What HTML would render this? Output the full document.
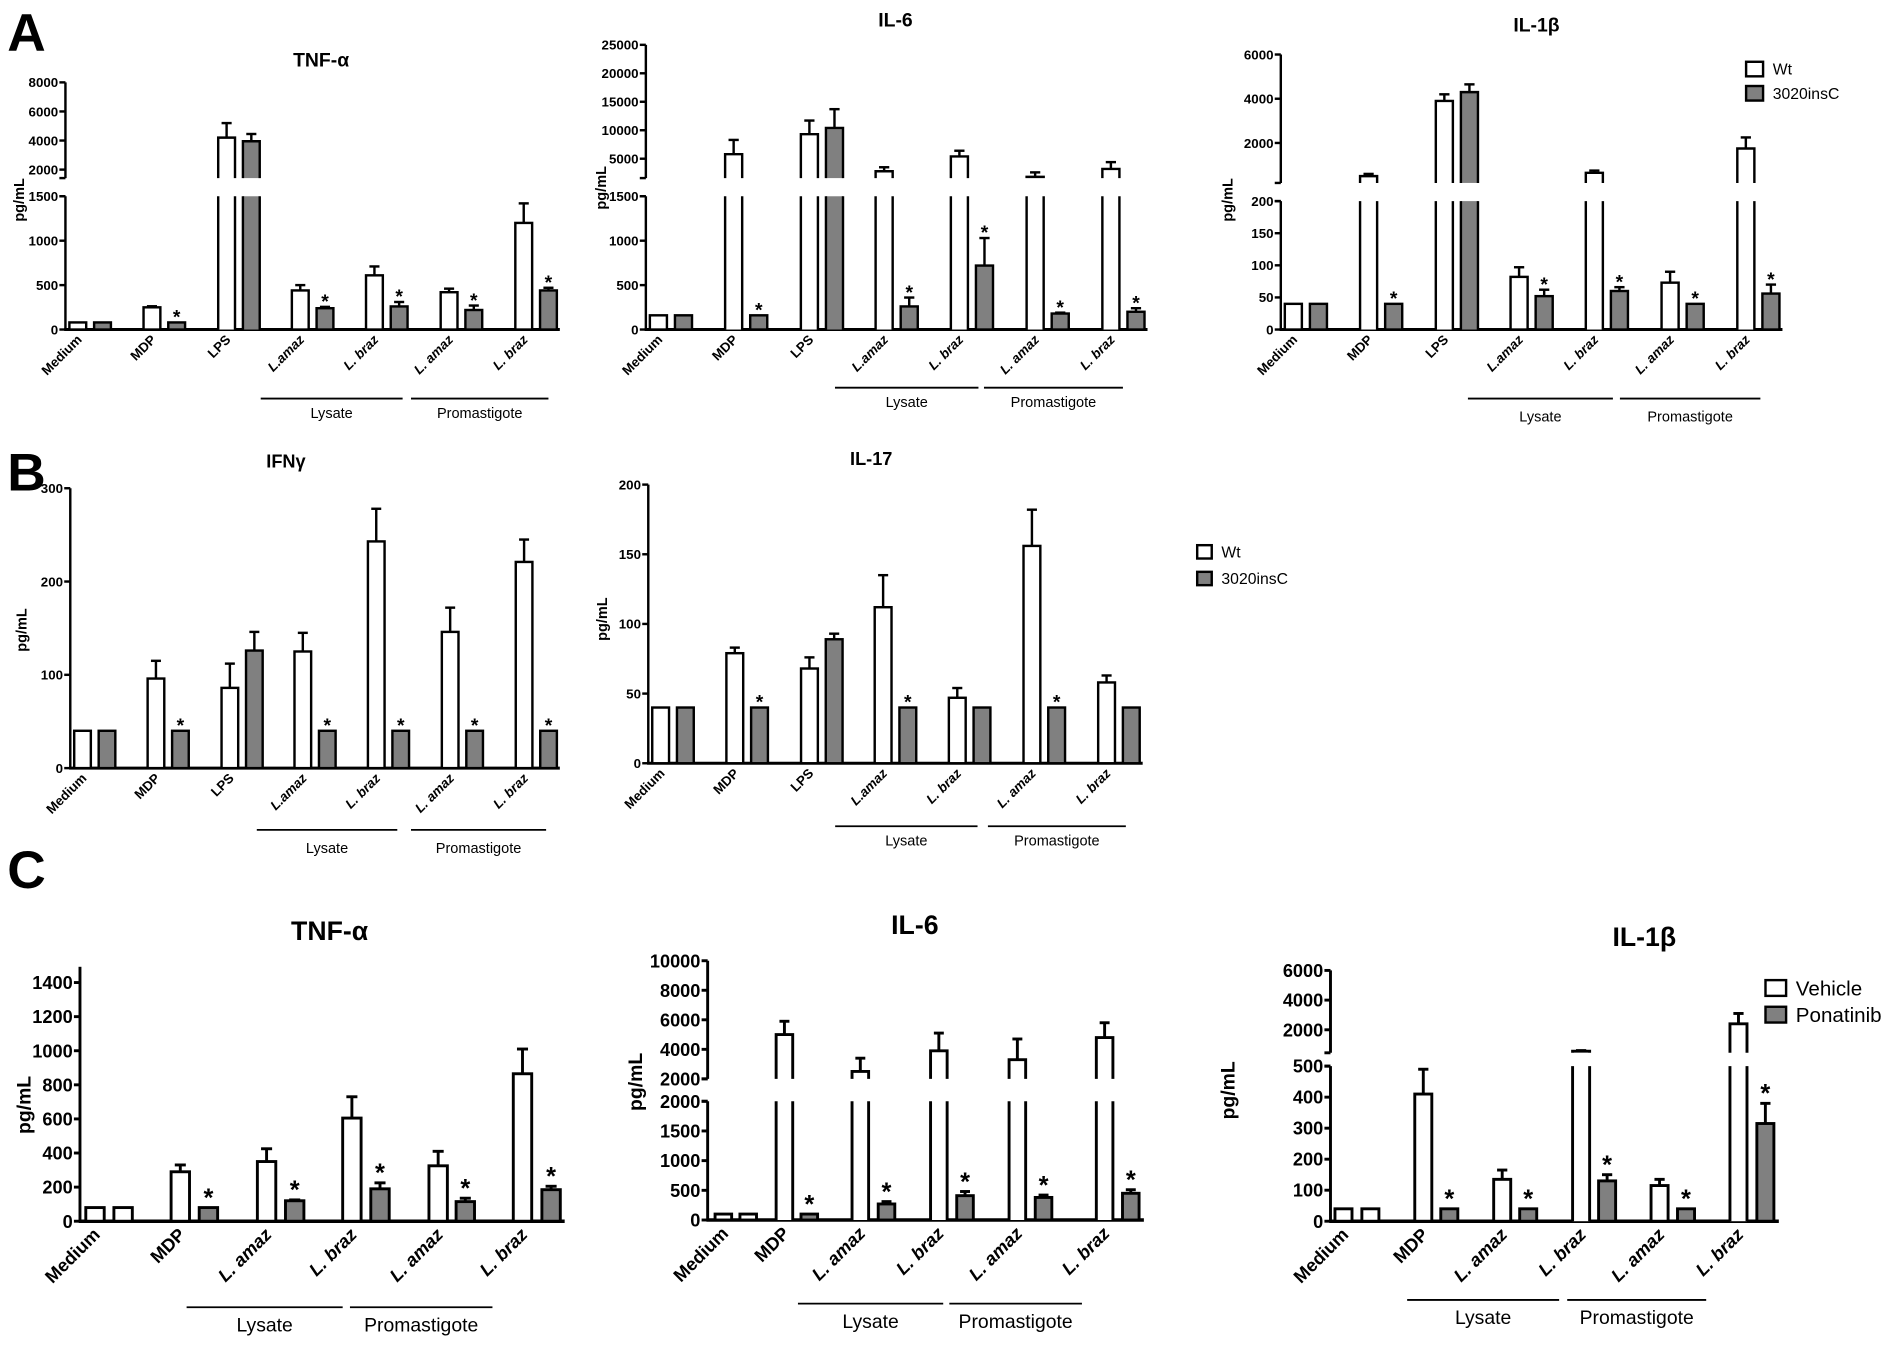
<!DOCTYPE html>
<html><head><meta charset="utf-8">
<style>
html,body{margin:0;padding:0;background:#fff;}
svg{display:block;}
text{font-family:"Liberation Sans Narrow","Liberation Sans",Arial,sans-serif;font-weight:bold;fill:#000;}
.nb{font-weight:normal;}
</style></head>
<body>
<svg id="s" xmlns="http://www.w3.org/2000/svg" width="1900" height="1346" viewBox="0 0 1568 1111" preserveAspectRatio="none"></svg>
<script>
const NS="http://www.w3.org/2000/svg";
const S=document.getElementById('s');
function el(t,a,txt){const e=document.createElementNS(NS,t);for(const k in a)e.setAttribute(k,a[k]);if(txt!==undefined)e.textContent=txt;S.appendChild(e);return e;}
function line(x1,y1,x2,y2,w){el('line',{x1,y1,x2,y2,stroke:'#000','stroke-width':w||2});}
function text(x,y,t,o){o=o||{};const a={x,y,'font-size':o.fs||12,'text-anchor':o.anchor||'middle'};if(o.rot)a.transform=o.rot;if(o.italic)a['font-style']='italic';if(o.cls)a['class']=o.cls;el('text',a,t);}
const stdW=[.025,.175,.326,.475,.625,.776,.927], stdG=stdW.map(v=>v+.05);
const labA=[["Medium",0],["MDP",0],["LPS",0],["L.amaz",1],["L. braz",1],["L. amaz",1],["L. braz",1]];
const labC=[["Medium",0],["MDP",0],["L. amaz",1],["L. braz",1],["L. amaz",1],["L. braz",1]];
function chart(c){
 const x0=c.x0,L=c.L,y0=c.y0,lo=c.lo,up=c.up;
 const X=f=>x0+f*L;
 const yl=v=>y0-v/lo.max*(y0-lo.ytop);
 const yu=v=>up.a[1]+(v-up.a[0])*(up.b[1]-up.a[1])/(up.b[0]-up.a[0]);
 const Y=v=>(!up||v<=lo.max)?yl(v):Math.min(yu(v),up.yb-1);
 const sw=c.sw||2;
 line(x0,y0,x0,lo.ytop,sw);
 lo.ticks.forEach(t=>{const y=yl(t);line(x0-5,y,x0,y,sw);text(x0-6,y+c.tfs*0.36,String(t),{fs:c.tfs,anchor:'end'});});
 if(up){line(x0,up.yb,x0,up.top,sw);line(x0-5,up.yb,x0,up.yb,sw);line(x0-5,lo.ytop,x0,lo.ytop,sw);
  up.ticks.forEach(t=>{const y=yu(t);line(x0-5,y,x0,y,sw);text(x0-6,y+c.tfs*0.36,String(t),{fs:c.tfs,anchor:'end'});});}
 else{ if(c.top)line(x0,lo.ytop,x0,c.top,sw);}
 line(x0-1,y0,x0+L,y0,sw+0.5);
 const bw=c.bw*L;
 c.data.forEach((d,i)=>{
  const pairs=[[c.fw[i],d[0],d[1],'#fff'],[c.fg[i],d[2],d[3],(c.medWhite&&i==0)?'#fff':'#808080']];
  pairs.forEach(([f,v,e,fill],k)=>{
   const cx=X(f),l=cx-bw/2,r=cx+bw/2;
   if(!up||v<=lo.max){const yt=yl(v);
    el('rect',{x:l,y:yt,width:bw,height:y0-yt,fill,stroke:'#000','stroke-width':sw});
   }else{
    el('rect',{x:l,y:lo.ytop,width:bw,height:y0-lo.ytop,fill,stroke:'none'});
    el('path',{d:`M${l},${y0}V${lo.ytop}M${r},${y0}V${lo.ytop}`,stroke:'#000','stroke-width':sw,fill:'none'});
    const yt=Y(v);
    el('rect',{x:l,y:yt,width:bw,height:up.yb-yt,fill,stroke:'none'});
    el('path',{d:`M${l},${up.yb}V${yt}H${r}V${up.yb}`,stroke:'#000','stroke-width':sw,fill:'none'});
   }
   let top=Y(v);
   if(e&&e>v){const ye=Y(e);line(cx,top,cx,ye,sw);line(cx-bw*0.3,ye,cx+bw*0.3,ye,sw);top=ye;}
   if(k==1&&d[4])text(cx,top+(c.sfs>18?-1:1),'*',{fs:c.sfs});
  });
  const lb=c.labs[i];const lx=X(c.fw[i])+c.lo2,ly=y0+c.ly;
  text(lx,ly,lb[0],{fs:c.lfs,anchor:'end',italic:lb[1],rot:`rotate(-45 ${lx} ${ly})`});
 });
 c.groups.forEach(g=>{line(X(g[0]),c.gy,X(g[1]),c.gy,1.5);text((X(g[0])+X(g[1]))/2,c.gty,g[2],{fs:c.gfs,cls:'nb'});});
 text(c.title[0],c.title[1],c.title[2],{fs:c.title[3]});
 text(c.yl[0],c.yl[1],'pg/mL',{fs:c.yl[2],rot:`rotate(-90 ${c.yl[0]} ${c.yl[1]})`});
}
function legend(x,y1,y2,w,h,fs,t1,t2){
 el('rect',{x,y:y1,width:w,height:h,fill:'#fff',stroke:'#000','stroke-width':2});
 el('rect',{x,y:y2,width:w,height:h,fill:'#808080',stroke:'#000','stroke-width':2});
 text(x+w+8,y1+h/2+fs*0.36,t1,{fs,anchor:'start',cls:'nb'});
 text(x+w+8,y2+h/2+fs*0.36,t2,{fs,anchor:'start',cls:'nb'});
}
const A={fw:stdW,fg:stdG,bw:.034,tfs:11,sfs:16,lfs:11,labs:labA,lo2:4,ly:9,gfs:12};
chart(Object.assign({},A,{x0:54,L:408,y0:272,lo:{max:1500,ytop:162,ticks:[0,500,1000,1500]},
 up:{yb:147,a:[2000,140],b:[8000,68],ticks:[2000,4000,6000,8000],top:68},
 data:[[80,0,80,0,0],[250,262,80,0,1],[4200,5200,3950,4450,0],[440,500,240,255,1],[610,710,260,310,1],[420,460,220,270,1],[1200,1420,440,470,1]],
 groups:[[.395,.682,'Lysate'],[.699,.977,'Promastigote']],gy:329,gty:345,title:[265,55,'TNF-α',16],yl:[20,165,12]}));
chart(Object.assign({},A,{x0:533,L:414,y0:272,lo:{max:1500,ytop:162,ticks:[0,500,1000,1500]},
 up:{yb:147,a:[5000,131],b:[25000,37],ticks:[5000,10000,15000,20000,25000],top:37},
 data:[[160,0,160,0,0],[5800,8300,160,0,1],[9300,11700,10400,13700,0],[2800,3500,260,360,1],[5400,6400,720,1030,1],[1800,2600,180,190,1],[3200,4400,200,240,1]],
 groups:[[.377,.663,'Lysate'],[.674,.951,'Promastigote']],gy:320,gty:336,title:[739,22,'IL-6',16],yl:[500,155,12]}));
chart(Object.assign({},A,{x0:1057,L:414,y0:272,lo:{max:200,ytop:166,ticks:[0,50,100,150,200]},
 up:{yb:151,a:[2000,118],b:[6000,45],ticks:[2000,4000,6000],top:45},
 data:[[40,0,40,0,0],[500,600,40,0,1],[3900,4200,4300,4650,0],[82,97,52,62,1],[650,750,60,66,1],[73,90,40,0,1],[1750,2250,56,70,1]],
 groups:[[.373,.662,'Lysate'],[.676,.956,'Promastigote']],gy:329,gty:348,title:[1268,26,'IL-1β',16],yl:[1017,165,12]}));
legend(1441,51,71,14,12,13,'Wt','3020insC');
chart(Object.assign({},A,{x0:58,L:404,y0:634,lo:{max:300,ytop:403,ticks:[0,100,200,300]},
 data:[[40,0,40,0,0],[96,115,40,0,1],[86,112,126,146,0],[125,145,40,0,1],[243,278,40,0,1],[146,172,40,0,1],[221,245,40,0,1]],
 groups:[[.381,.668,'Lysate'],[.696,.972,'Promastigote']],gy:685,gty:704,title:[236,386,'IFNγ',15],yl:[22,520,12]}));
chart(Object.assign({},A,{x0:535,L:408,y0:630,lo:{max:200,ytop:400,ticks:[0,50,100,150,200]},
 data:[[40,0,40,0,0],[79,83,40,0,1],[68,76,89,93,0],[112,135,40,0,1],[47,54,40,0,0],[156,182,40,0,1],[58,63,40,0,0]],
 groups:[[.378,.666,'Lysate'],[.687,.966,'Promastigote']],gy:682,gty:698,title:[719,384,'IL-17',15],yl:[501,511,12]}));
legend(988,450,472,12,11,13,'Wt','3020insC');
const C={bw:.038,tfs:15,sfs:21,lfs:15,labs:labC,lo2:5,ly:12,gfs:16,medWhite:true,sw:2.4};
chart(Object.assign({},C,{x0:66,L:400,y0:1008,lo:{max:1400,ytop:811,ticks:[0,200,400,600,800,1000,1200,1400]},top:798,
 fw:[.031,.207,.385,.561,.739,.913],fg:[.089,.265,.443,.619,.795,.972],
 data:[[80,0,80,0,0],[290,330,80,0,1],[350,425,120,125,1],[605,730,190,225,1],[325,410,115,135,1],[865,1010,185,205,1]],
 groups:[[.22,.542,'Lysate'],[.557,.851,'Promastigote']],gy:1079,gty:1099,title:[272,776,'TNF-α',22],yl:[25,912,16]}));
chart(Object.assign({},C,{x0:584,L:360,y0:1007,lo:{max:2000,ytop:909,ticks:[0,500,1000,1500,2000]},
 up:{yb:890.5,a:[2000,890.5],b:[10000,793],ticks:[2000,4000,6000,8000,10000],top:793},
 fw:[.036,.176,.35,.53,.71,.91],fg:[.093,.233,.41,.59,.77,.97],
 data:[[100,0,100,0,0],[5000,5900,100,0,1],[2500,3400,270,310,1],[3900,5100,410,480,1],[3300,4700,380,420,1],[4800,5800,450,510,1]],
 groups:[[.207,.54,'Lysate'],[.554,.858,'Promastigote']],gy:1076,gty:1096,title:[755,771,'IL-6',22],yl:[530,893,16]}));
chart(Object.assign({},C,{x0:1098,L:370,y0:1008,lo:{max:500,ytop:880,ticks:[0,100,200,300,400,500]},
 up:{yb:869,a:[2000,850],b:[6000,801],ticks:[2000,4000,6000],top:801},
 fw:[.029,.207,.383,.559,.734,.910],fg:[.089,.265,.441,.617,.793,.970],
 data:[[40,0,40,0,0],[410,490,40,0,1],[135,165,40,0,1],[560,600,130,150,1],[115,135,40,0,1],[2400,3100,315,380,1]],
 groups:[[.171,.51,'Lysate'],[.528,.838,'Promastigote']],gy:1073,gty:1093,title:[1357,781,'IL-1β',22],yl:[1019,900,16]}));
legend(1457,809,831,17,13,17,'Vehicle','Ponatinib');
text(6,42,'A',{fs:44,anchor:'start'});
text(6,405,'B',{fs:44,anchor:'start'});
text(6,733,'C',{fs:44,anchor:'start'});
</script>
</body></html>
